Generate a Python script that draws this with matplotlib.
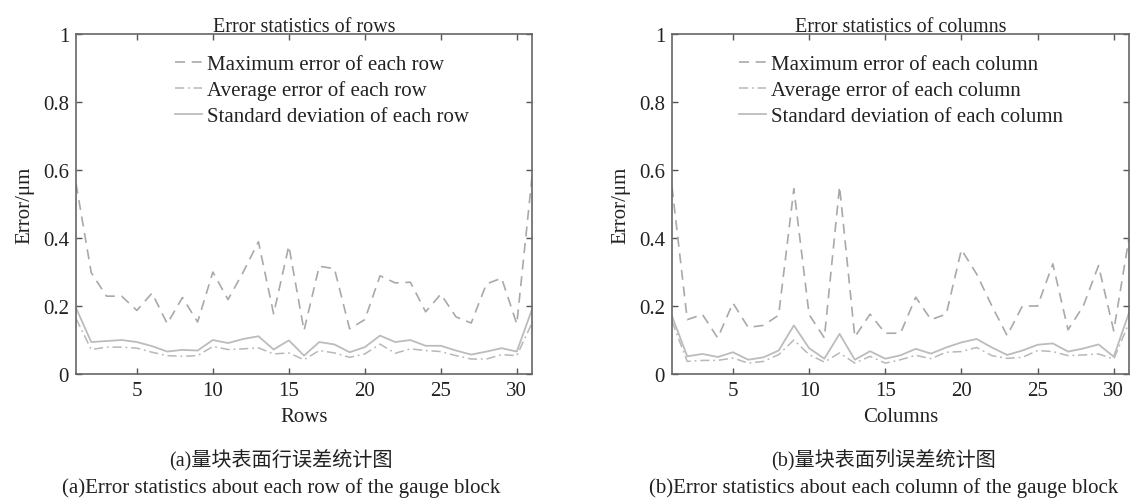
import numpy as np
import matplotlib
matplotlib.use("Agg")
import matplotlib.pyplot as plt

plt.rcParams['font.family'] = ['Liberation Serif', 'Noto Sans CJK SC']

idx = np.arange(1, 32)

# rows
row_max = [0.56, 0.298, 0.229, 0.229, 0.187, 0.238, 0.148, 0.225, 0.153, 0.30,
           0.219, 0.30, 0.389, 0.177, 0.377, 0.128, 0.317, 0.31, 0.133, 0.16,
           0.289, 0.268, 0.27, 0.183, 0.235, 0.168, 0.15, 0.265, 0.282, 0.147, 0.58]
row_avg = [0.163, 0.072, 0.079, 0.079, 0.076, 0.064, 0.054, 0.052, 0.054, 0.081,
           0.072, 0.074, 0.077, 0.059, 0.062, 0.042, 0.069, 0.062, 0.049, 0.059,
           0.088, 0.061, 0.074, 0.069, 0.066, 0.054, 0.044, 0.044, 0.057, 0.054, 0.15]
row_std = [0.194, 0.094, 0.097, 0.10, 0.094, 0.082, 0.066, 0.071, 0.069, 0.10,
           0.091, 0.103, 0.111, 0.072, 0.099, 0.054, 0.094, 0.087, 0.064, 0.079,
           0.113, 0.094, 0.10, 0.083, 0.083, 0.069, 0.057, 0.066, 0.076, 0.066, 0.19]

# columns
col_max = [0.55, 0.16, 0.175, 0.106, 0.209, 0.137, 0.143, 0.173, 0.545, 0.175,
           0.106, 0.552, 0.109, 0.176, 0.12, 0.12, 0.226, 0.16, 0.176, 0.366,
           0.294, 0.20, 0.113, 0.20, 0.20, 0.324, 0.13, 0.20, 0.319, 0.127, 0.40]
col_avg = [0.155, 0.037, 0.04, 0.04, 0.047, 0.032, 0.037, 0.057, 0.10, 0.057,
           0.035, 0.062, 0.032, 0.052, 0.032, 0.042, 0.055, 0.045, 0.064, 0.066,
           0.078, 0.054, 0.046, 0.049, 0.069, 0.066, 0.054, 0.056, 0.059, 0.044, 0.15]
col_std = [0.17, 0.052, 0.059, 0.05, 0.064, 0.042, 0.049, 0.069, 0.143, 0.076,
           0.045, 0.118, 0.042, 0.067, 0.045, 0.055, 0.074, 0.06, 0.078, 0.093,
           0.103, 0.078, 0.056, 0.069, 0.086, 0.09, 0.066, 0.075, 0.087, 0.051, 0.18]

fig = plt.figure(figsize=(11.3, 5.02), dpi=100)


def draw(ax, ymax, yavg, ystd, name, xlab, title, leg_x, cap_cn, cap_en, cap_x):
    ax.plot(idx, ymax, color="#a9a9a9", lw=1.2, ls=(0, (6, 4)),
            label="Maximum error of each " + name)
    ax.plot(idx, yavg, color="#b8b8b8", lw=1.1, ls=(0, (6, 2.5, 1.2, 2.5)),
            label="Average error of each " + name)
    ax.plot(idx, ystd, color="#bcbcbc", lw=1.3, ls="-",
            label="Standard deviation of each " + name)
    ax.set_xlim(1, 31)
    ax.set_ylim(0, 1)
    ax.set_xticks([5, 10, 15, 20, 25, 30])
    ax.set_yticks([0, 0.2, 0.4, 0.6, 0.8, 1])
    ax.set_yticklabels(["0", "0.2", "0.4", "0.6", "0.8", "1"])
    ax.tick_params(direction="in", top=True, right=True, length=4, width=1,
                   labelsize=15, colors="#555555", labelcolor="#222222", pad=5)
    for s in ax.spines.values():
        s.set_color("#666666")
        s.set_linewidth(1.2)
    ax.set_title(title, fontsize=14.5, color="#222222", pad=2)
    ax.set_xlabel(xlab, fontsize=15, color="#222222", labelpad=5)
    ax.set_ylabel("Error/μm", fontsize=15, color="#222222", labelpad=6)
    ax.legend(loc="upper left", bbox_to_anchor=(leg_x, 0.94), frameon=False,
              fontsize=15, handlelength=1.3, handletextpad=0.25,
              labelspacing=0.3, borderpad=0, borderaxespad=0,
              labelcolor="#222222")
    fig.text(cap_x, 0.085, cap_cn, ha="center", va="center", fontsize=14.5,
             color="#222222")
    fig.text(cap_x, 0.028, cap_en, ha="center", va="center", fontsize=15,
             color="#222222")


ax1 = fig.add_axes([0.0673, 0.253, 0.4035, 0.677])
draw(ax1, row_max, row_avg, row_std, "row", "Rows", "Error statistics of rows",
     0.217, "(a)量块表面行误差统计图",
     "(a)Error statistics about each row of the gauge block", 0.249)

ax2 = fig.add_axes([0.5947, 0.253, 0.4044, 0.677])
draw(ax2, col_max, col_avg, col_std, "column", "Columns",
     "Error statistics of columns", 0.147, "(b)量块表面列误差统计图",
     "(b)Error statistics about each column of the gauge block", 0.782)

fig.savefig("out.png", dpi=100)
